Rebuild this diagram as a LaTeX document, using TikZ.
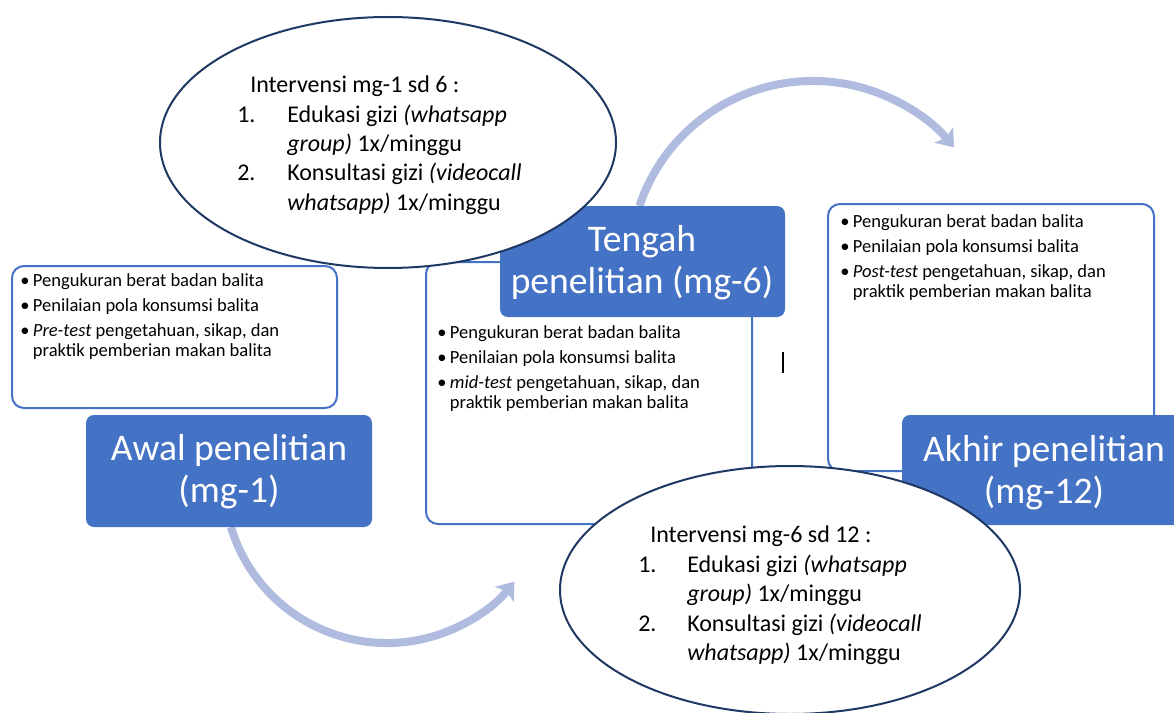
\documentclass[tikz,border=0pt]{standalone}
\usepackage{fontspec}
\setmainfont{Carlito}
\usetikzlibrary{shapes.geometric,arrows.meta}
\definecolor{boxblue}{HTML}{4472C4}
\definecolor{ellline}{HTML}{1F3864}
\definecolor{arrowc}{HTML}{AFBBDF}
\newcommand{\blt}{\makebox[9.5pt][l]{\textbullet}}
\newcommand{\ind}{\hspace*{9.5pt}}
\newcommand{\rows}[1]{\begin{tabular}[t]{@{}l@{}}#1\end{tabular}}
\newcommand{\crows}[1]{\begin{tabular}[t]{@{}c@{}}#1\end{tabular}}
\begin{document}
\begin{tikzpicture}[x=0.75pt,y=0.75pt,
 wbox/.style={draw=boxblue, line width=1.5pt, fill=white, rounded corners=9pt, inner sep=0pt},
 bbox/.style={fill=boxblue, rounded corners=6pt, inner sep=0pt},
 btext/.style={text=white, inner sep=0pt, anchor=base, font=\fontsize{28.2}{31.5}\selectfont},
 ltext/.style={inner sep=0pt, anchor=base west, font=\fontsize{13.9}{15}\selectfont},
 etext/.style={inner sep=0pt, anchor=base west, font=\fontsize{18}{22.1}\selectfont},
 oval/.style={ellipse, draw=ellline, line width=1.5pt, fill=white, inner sep=0pt},
 flow/.style={draw=arrowc, line width=6pt, -{Stealth[length=12pt,width=18pt,inset=2.5pt]}},
]
\useasboundingbox[fill=white] (0,0) rectangle (1174,-713);

% flow arrows
\coordinate (tA) at ({813+183*cos(161.5)},{-264+183*sin(161.5)});
\draw[flow] (tA) arc[start angle=161.5, end angle=39.6, radius=183];
\coordinate (bA) at ({387+163*cos(-163.2)},{-480+163*sin(-163.2)});
\draw[flow] (bA) arc[start angle=-163.2, end angle=-38.6, radius=163];

% boxes
\node[wbox, minimum width=325*0.75pt, minimum height=142*0.75pt] (prebox) at (174.5,-337) {};
\node[wbox, minimum width=326*0.75pt, minimum height=262*0.75pt] (midbox) at (589,-393) {};
\node[bbox, minimum width=285*0.75pt, minimum height=111*0.75pt] (tengah) at (642.5,-261.5) {};
\node[oval, minimum width=456*0.75pt, minimum height=251*0.75pt] (topell) at (388,-142.5) {};
\node[wbox, minimum width=326*0.75pt, minimum height=267*0.75pt] (postbox) at (991,-337.5) {};
\begin{scope}
\clip (0,0) rectangle (1174,-713);
\node[bbox, minimum width=290*0.75pt, minimum height=110*0.75pt] (akhir) at (1047,-470) {};
\end{scope}
\node[oval, minimum width=460*0.75pt, minimum height=248*0.75pt] (botell) at (790,-590) {};
\node[bbox, minimum width=286*0.75pt, minimum height=112*0.75pt] (awal) at (229,-471) {};

% texts in blue boxes
\node[btext] (awaltext) at (229,-460) {\crows{Awal penelitian\\(mg-1)}};
\node[btext] (tengahtext) at (642,-251) {\crows{Tengah\\penelitian (mg-6)}};
\node[btext] (akhirtext) at (1044,-461.7) {\crows{Akhir penelitian\\(mg-12)}};

% bullet lists
\node[ltext] (pretext) at (20,-286.4) {\rows{\blt Pengukuran berat badan balita\\[3.75pt]
\blt Penilaian pola konsumsi balita\\[3.75pt]
\blt\textit{Pre-test} pengetahuan, sikap, dan\\
\ind praktik pemberian makan balita}};
\node[ltext] (midtext) at (437,-338.4) {\rows{\blt Pengukuran berat badan balita\\[3.75pt]
\blt Penilaian pola konsumsi balita\\[3.75pt]
\blt\textit{mid-test} pengetahuan, sikap, dan\\
\ind praktik pemberian makan balita}};
\node[ltext] (posttext) at (840,-227.4) {\rows{\blt Pengukuran berat badan balita\\[3.75pt]
\blt Penilaian pola konsumsi balita\\[3.75pt]
\blt\textit{Post-test} pengetahuan, sikap, dan\\
\ind praktik pemberian makan balita}};

% ellipse texts
\node[etext] (toptext) at (237,-92.6) {\rows{\hspace*{9.75pt}Intervensi mg-1 sd 6 :\\
\makebox[37.5pt][l]{1.}Edukasi gizi \textit{(whatsapp}\\
\hspace*{37.5pt}\textit{group)} 1x/minggu\\
\makebox[37.5pt][l]{2.}Konsultasi gizi \textit{(videocall}\\
\hspace*{37.5pt}\textit{whatsapp)} 1x/minggu}};
\node[etext] (bottext) at (638,-542.6) {\rows{\hspace*{9pt}Intervensi mg-6 sd 12 :\\
\makebox[36.75pt][l]{1.}Edukasi gizi \textit{(whatsapp}\\
\hspace*{36.75pt}\textit{group)} 1x/minggu\\
\makebox[36.75pt][l]{2.}Konsultasi gizi \textit{(videocall}\\
\hspace*{36.75pt}\textit{whatsapp)} 1x/minggu}};

% stray cursor mark
\coordinate (cur1) at (783,-352);
\coordinate (cur2) at (783,-373);
\draw[line width=0.9pt] (cur1) -- (cur2);
\end{tikzpicture}
\end{document}
